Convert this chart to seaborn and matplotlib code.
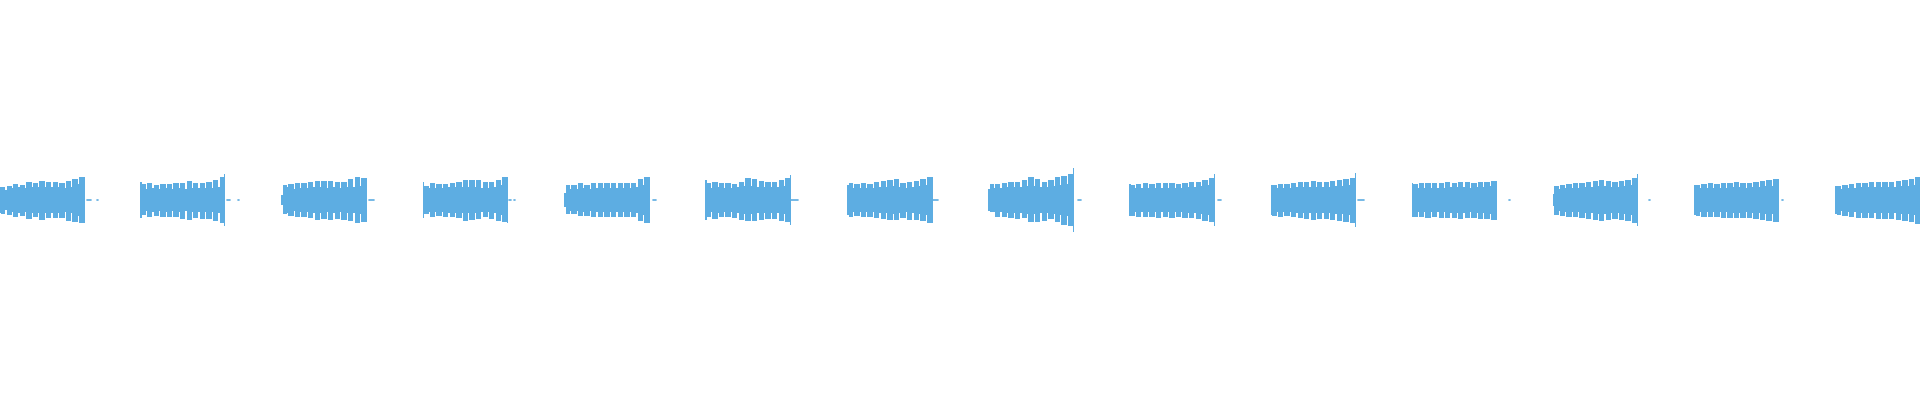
import numpy as np
import pandas as pd
import matplotlib
matplotlib.use("Agg")
import matplotlib.pyplot as plt
import seaborn as sns

# time in seconds, amplitude in % of full scale
burst_start = [-0.005, 0.991, 1.990, 2.994, 3.994, 4.993, 5.999,
               6.997, 7.996, 9.001, 10.000, 10.998, 12.001, 12.999]
burst_end = [0.602, 1.597, 2.601, 3.600, 4.606, 5.604, 6.608,
             7.608, 8.605, 9.603, 10.602, 11.601, 12.599, 13.610]

# amplitude of the very first column of each burst
onset_amp = [6.7, 9.0, 2.5, 9.2, 3.3, 10.0, 7.5, 5.5, 8.0, 7.5, 8.5, 3.0, 7.5, 7.0]
# last-column click at the end of a burst (0 = none)
spike_amp = [0, 13.0, 0, 11.5, 0, 12.7, 0, 15.8, 13.0, 13.5, 0, 13.0, 0, 0]

lobe_top = [
    [6.7, 7.2, 8.0, 7.7, 9.0, 8.3, 9.5, 9.0, 8.8, 8.5, 9.7, 10.5, 11.7],
    [8.0, 8.5, 7.7, 8.0, 8.0, 8.5, 8.5, 9.7, 8.5, 8.3, 9.2, 10.2, 11.7],
    [7.5, 8.0, 8.5, 8.3, 8.8, 9.7, 9.3, 9.7, 9.2, 9.2, 10.5, 11.7, 11.0],
    [7.2, 8.5, 8.0, 8.0, 8.5, 9.2, 10.0, 10.2, 10.0, 8.8, 9.2, 10.0, 11.7],
    [7.5, 7.5, 8.5, 7.5, 8.5, 8.5, 8.5, 8.5, 8.5, 8.3, 8.5, 10.5, 11.7],
    [8.3, 9.2, 8.5, 8.3, 8.0, 9.2, 11.0, 10.5, 9.7, 9.2, 8.8, 10.0, 11.0],
    [8.5, 8.0, 8.5, 8.0, 8.8, 9.7, 10.0, 10.5, 8.5, 9.2, 9.7, 10.5, 11.3],
    [8.0, 8.0, 8.5, 9.2, 9.2, 10.2, 11.3, 10.5, 8.8, 10.2, 11.3, 12.2, 13.0],
    [7.5, 8.0, 8.5, 8.0, 8.5, 8.3, 8.5, 8.0, 8.5, 8.8, 9.2, 10.0, 10.8],
    [7.5, 8.0, 7.8, 8.3, 8.8, 9.0, 9.5, 9.2, 9.0, 9.7, 10.0, 10.5, 11.0],
    [8.0, 8.3, 8.5, 8.3, 8.5, 8.8, 8.5, 9.0, 8.8, 8.5, 9.0, 9.2, 9.5],
    [7.0, 7.5, 8.0, 8.3, 8.5, 9.0, 9.5, 10.0, 9.5, 9.0, 9.5, 10.0, 11.0],
    [7.5, 8.0, 8.3, 8.0, 8.5, 8.5, 8.8, 8.5, 8.5, 9.0, 9.5, 10.0, 10.5],
    [7.0, 7.5, 8.0, 8.5, 8.5, 8.8, 9.0, 9.2, 9.0, 9.5, 10.0, 10.5, 11.5],
]
lobe_bottom = [
    [6.8, 7.5, 8.7, 8.2, 9.5, 8.7, 9.8, 9.2, 9.0, 9.2, 10.3, 11.2, 11.7],
    [7.3, 8.7, 7.8, 8.3, 8.7, 8.3, 9.5, 10.0, 9.0, 9.5, 9.5, 10.3, 11.5],
    [7.0, 7.8, 8.7, 8.3, 9.0, 10.0, 9.5, 10.0, 9.5, 10.0, 10.3, 11.7, 11.2],
    [7.0, 8.3, 7.8, 8.3, 8.7, 9.2, 10.3, 10.0, 9.5, 8.7, 9.5, 10.7, 11.2],
    [7.0, 7.0, 7.8, 7.8, 8.7, 8.3, 8.7, 8.7, 8.3, 8.7, 8.3, 10.3, 11.5],
    [8.7, 9.5, 8.3, 8.7, 9.0, 10.0, 10.7, 10.3, 10.0, 9.5, 9.5, 10.3, 11.2],
    [8.3, 7.8, 8.3, 8.7, 9.0, 9.5, 10.0, 10.0, 9.0, 10.0, 10.0, 10.3, 11.5],
    [6.2, 8.7, 8.7, 9.2, 9.5, 9.2, 10.8, 11.2, 10.3, 9.5, 11.2, 12.5, 12.8],
    [7.8, 8.3, 8.7, 8.5, 8.8, 8.7, 9.0, 8.5, 8.8, 9.2, 9.5, 10.3, 11.2],
    [7.8, 8.3, 8.2, 8.7, 9.0, 9.3, 9.8, 9.5, 9.3, 10.0, 10.3, 10.8, 11.3],
    [8.3, 8.5, 8.8, 8.5, 8.8, 9.0, 8.8, 9.3, 9.0, 8.8, 9.3, 9.5, 9.8],
    [7.3, 7.8, 8.3, 8.5, 8.8, 9.3, 9.8, 10.3, 9.8, 9.3, 9.8, 10.3, 11.3],
    [7.8, 8.3, 8.5, 8.3, 8.8, 8.8, 9.0, 8.8, 8.8, 9.3, 9.8, 10.3, 10.8],
    [7.3, 7.8, 8.3, 8.8, 8.8, 9.0, 9.3, 9.5, 9.3, 9.8, 10.3, 10.8, 11.8],
]
lobe_dip = [
    [5.0, 6.0, 6.3, 6.0, 6.7, 6.3, 6.7, 6.3, 6.7, 6.0, 6.7, 8.0],
    [5.5, 6.0, 5.5, 6.0, 5.5, 6.0, 5.5, 6.0, 6.0, 6.0, 6.0, 6.5],
    [6.3, 5.5, 6.0, 6.0, 6.3, 6.3, 6.0, 6.3, 6.0, 6.3, 6.5, 7.0],
    [6.0, 6.0, 6.0, 6.3, 6.3, 6.5, 6.5, 6.5, 6.0, 6.0, 6.5, 7.5],
    [5.5, 5.5, 6.0, 5.5, 6.0, 6.0, 6.0, 6.0, 6.0, 6.0, 6.5, 7.5],
    [6.0, 6.3, 6.0, 6.0, 6.3, 6.8, 6.8, 6.5, 6.3, 6.3, 6.5, 7.0],
    [6.0, 6.0, 6.0, 6.0, 6.3, 6.5, 6.8, 6.3, 6.0, 6.5, 6.8, 7.3],
    [5.8, 6.0, 6.3, 6.5, 6.5, 7.0, 7.0, 6.5, 6.5, 7.0, 7.5, 8.0],
    [5.8, 6.0, 6.0, 6.0, 6.0, 6.0, 6.0, 6.0, 6.3, 6.3, 6.8, 7.3],
    [5.8, 6.0, 6.0, 6.3, 6.3, 6.5, 6.5, 6.3, 6.5, 6.8, 7.0, 7.5],
    [6.0, 6.0, 6.0, 6.0, 6.0, 6.3, 6.3, 6.3, 6.0, 6.3, 6.5, 6.8],
    [5.5, 5.8, 6.0, 6.0, 6.3, 6.5, 6.8, 6.8, 6.5, 6.5, 6.8, 7.3],
    [5.8, 6.0, 6.0, 6.0, 6.0, 6.3, 6.3, 6.0, 6.3, 6.5, 6.8, 7.0],
    [5.5, 5.8, 6.0, 6.3, 6.3, 6.3, 6.5, 6.5, 6.5, 6.8, 7.0, 7.5],
]

# faint residue just after each burst
tail_start = [0.618, 0.686, 1.605, 1.686, 2.613, 3.605, 3.640, 4.625, 5.604,
              6.608, 7.634, 8.625, 9.618, 10.690, 11.680, 12.620]
tail_end = [0.642, 0.693, 1.629, 1.693, 2.649, 3.619, 3.647, 4.646, 5.652,
            6.645, 7.655, 8.650, 9.660, 10.697, 11.687, 12.627]

WAVE = "#5dade2"
ONSET = 0.012
DIP = 0.009
SPIKE = 0.007

sns.set_theme(style="white")
fig = plt.figure(figsize=(19.2, 4), dpi=100)
ax = fig.add_axes([0, 0, 1, 1])

for k in range(len(burst_start)):
    s, e = burst_start[k], burst_end[k]
    tops, bots, dips = lobe_top[k], lobe_bottom[k], lobe_dip[k]
    edges = np.linspace(s, e, len(tops) + 1)
    t = [s, s + ONSET]
    hi = [onset_amp[k], tops[0]]
    lo = [onset_amp[k], bots[0]]
    for i in range(1, len(tops)):
        t += [edges[i] - DIP / 2, edges[i] + DIP / 2]
        hi += [dips[i - 1], tops[i]]
        lo += [dips[i - 1], bots[i]]
    if spike_amp[k]:
        t.append(e - SPIKE)
        hi.append(spike_amp[k])
        lo.append(spike_amp[k])
    t.append(e)
    hi.append(0)
    lo.append(0)
    ax.fill_between(t, -np.array(lo), hi, step="post", color=WAVE, linewidth=0)

tails = pd.DataFrame({
    "t": tail_start + tail_end,
    "y": [0.0] * (2 * len(tail_start)),
    "seg": list(range(len(tail_start))) * 2,
})
sns.lineplot(data=tails, x="t", y="y", units="seg", estimator=None,
             color=WAVE, linewidth=1.2, ax=ax)

ax.set_xlim(0, 13.6)
ax.set_ylim(-100, 100)
ax.set_axis_off()
fig.savefig("out.png", dpi=100, facecolor="white")
